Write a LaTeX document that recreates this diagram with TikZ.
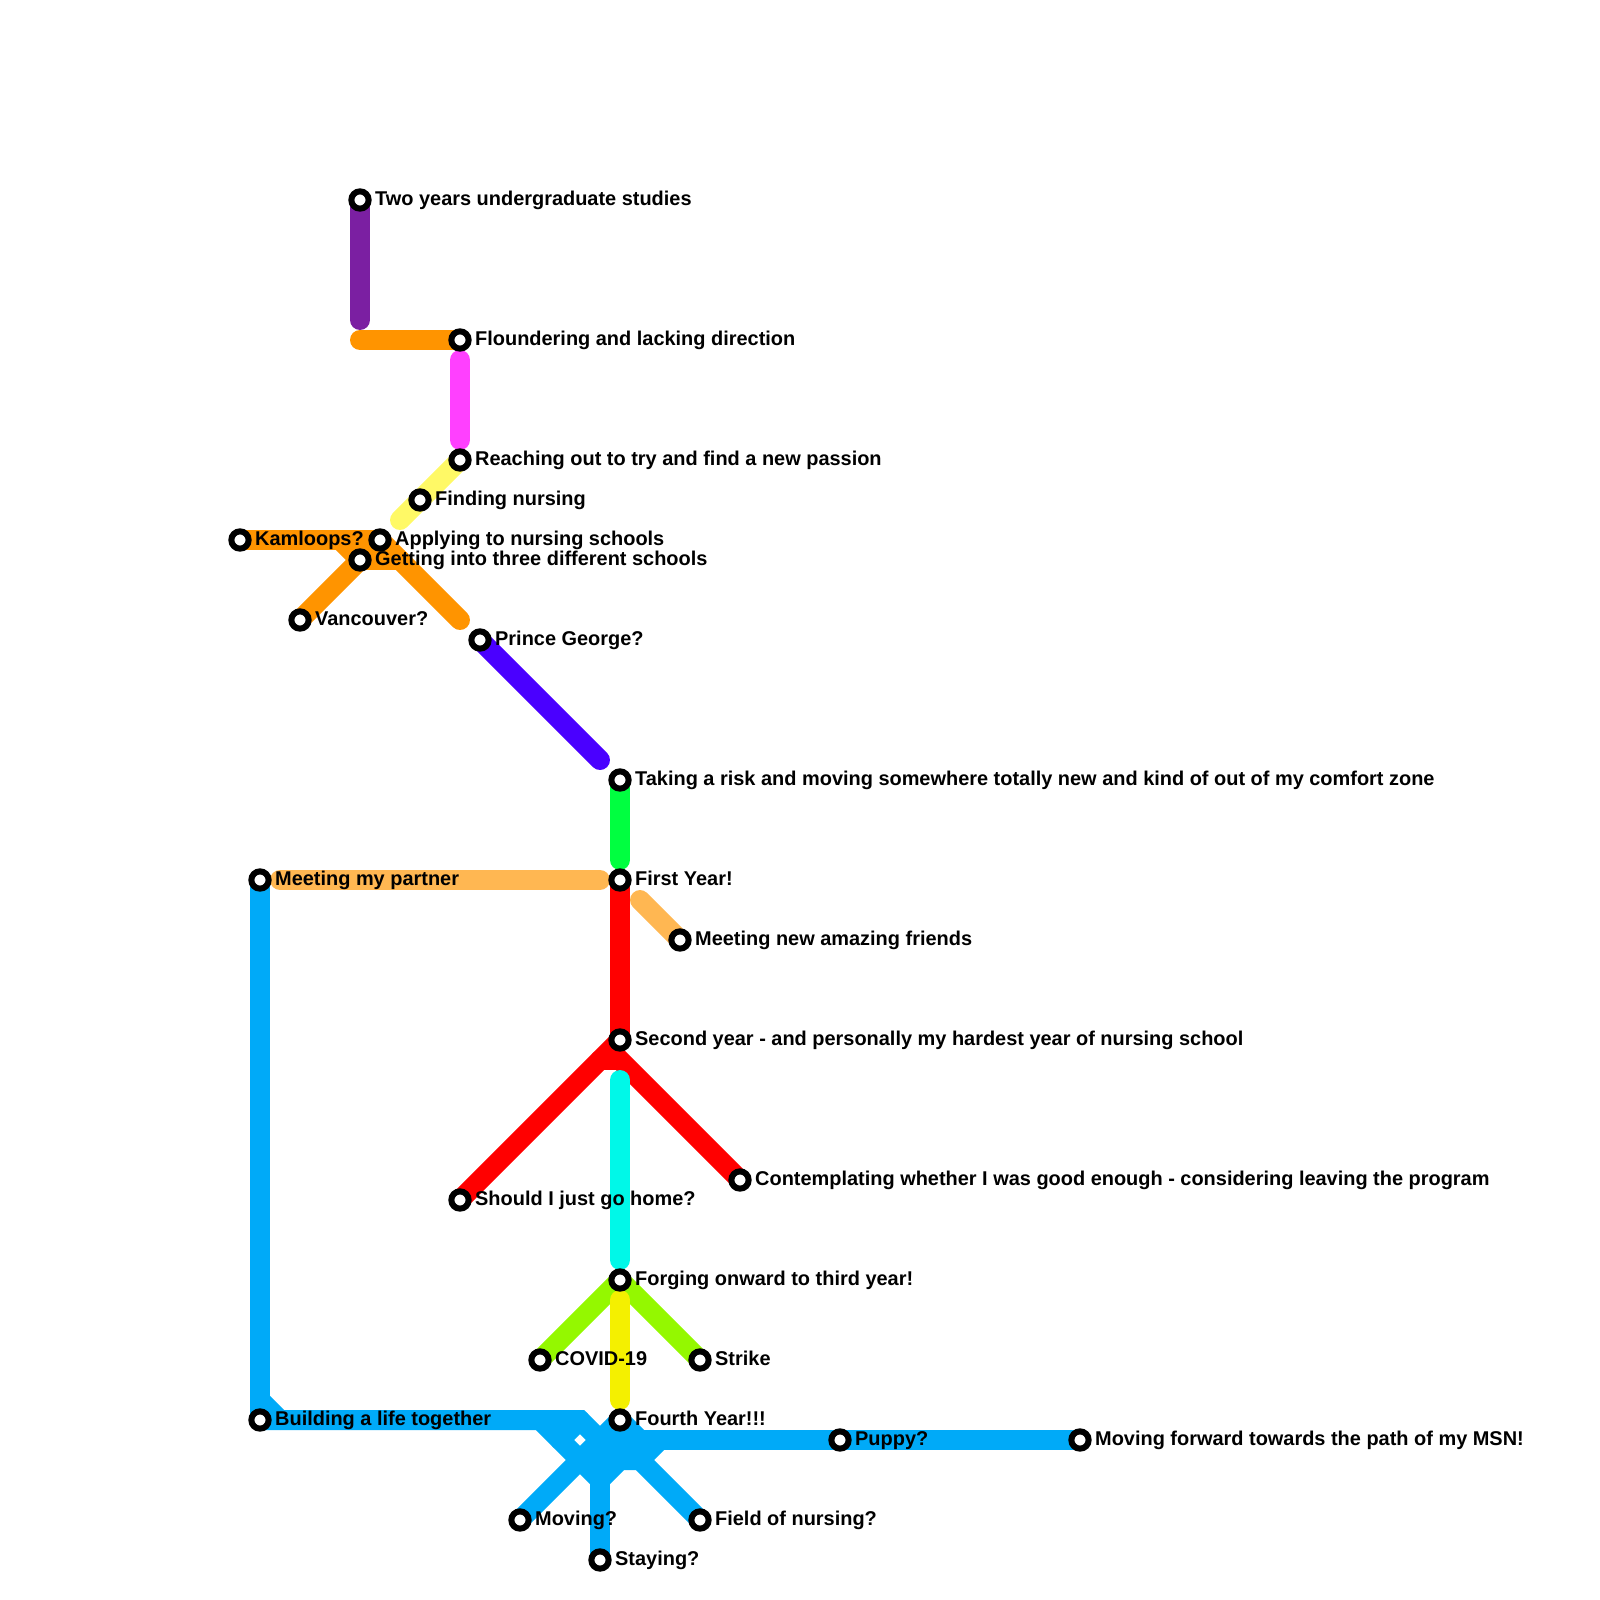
\documentclass[tikz,border=0pt]{standalone}
\usepackage{xcolor}
\usepackage{fontspec}
\setmainfont{Liberation Sans}
\usetikzlibrary{backgrounds}
\definecolor{linepurple}{HTML}{7B1FA2}
\definecolor{lineorange}{HTML}{FF9400}
\definecolor{linepink}{HTML}{FF40FF}
\definecolor{lineyellow}{HTML}{FFF966}
\definecolor{lineindigo}{HTML}{4A00FF}
\definecolor{linegreen}{HTML}{00FF40}
\definecolor{linepeach}{HTML}{FFB752}
\definecolor{lineblue}{HTML}{00AAF8}
\definecolor{linered}{HTML}{FF0000}
\definecolor{linecyan}{HTML}{00F8E8}
\definecolor{linelime}{HTML}{94F800}
\definecolor{linelemon}{HTML}{F4F000}
\tikzset{
  metro/.style={line width=14.2pt,line cap=round,line join=miter},
  stop/.style={circle,draw=black,fill=white,line width=4.3pt,minimum size=12.3pt,inner sep=0pt},
  stoptext/.style={font=\bfseries\fontsize{14.18}{16}\selectfont,inner sep=0pt,text height=12pt,text depth=4.88pt,label distance=2.3pt}
}
\begin{document}
\begin{tikzpicture}[x=0.5cm,y=-0.5cm]
\useasboundingbox (0,0) rectangle (80,80);
\node[stop,label={[stoptext]right:Two years undergraduate studies}] (two) at (18,10) {};
\node[stop,label={[stoptext]right:Floundering and lacking direction}] (flounder) at (23,17) {};
\node[stop,label={[stoptext]right:Reaching out to try and find a new passion}] (reach) at (23,23) {};
\node[stop,label={[stoptext]right:Finding nursing}] (finding) at (21,25) {};
\node[stop,label={[stoptext]right:Kamloops?}] (kamloops) at (12,27) {};
\node[stop,label={[stoptext]right:Applying to nursing schools}] (applying) at (19,27) {};
\node[stop,label={[stoptext]right:Getting into three different schools}] (getting) at (18,28) {};
\node[stop,label={[stoptext]right:Vancouver?}] (vancouver) at (15,31) {};
\node[stop,label={[stoptext]right:Prince George?}] (prince) at (24,32) {};
\node[stop,label={[stoptext]right:Taking a risk and moving somewhere totally new and kind of out of my comfort zone}] (risk) at (31,39) {};
\node[stop,label={[stoptext]right:Meeting my partner}] (partner) at (13,44) {};
\node[stop,label={[stoptext]right:First Year!}] (first) at (31,44) {};
\node[stop,label={[stoptext]right:Meeting new amazing friends}] (friends) at (34,47) {};
\node[stop,label={[stoptext]right:Second year - and personally my hardest year of nursing school}] (second) at (31,52) {};
\node[stop,label={[stoptext]right:Should I just go home?}] (home) at (23,60) {};
\node[stop,label={[stoptext]right:Contemplating whether I was good enough - considering leaving the program}] (leaving) at (37,59) {};
\node[stop,label={[stoptext]right:Forging onward to third year!}] (third) at (31,64) {};
\node[stop,label={[stoptext]right:COVID-19}] (covid) at (27,68) {};
\node[stop,label={[stoptext]right:Strike}] (strike) at (35,68) {};
\node[stop,label={[stoptext]right:Building a life together}] (building) at (13,71) {};
\node[stop,label={[stoptext]right:Fourth Year!!!}] (fourth) at (31,71) {};
\node[stop,label={[stoptext]right:Puppy?}] (puppy) at (42,72) {};
\node[stop,label={[stoptext]right:Moving forward towards the path of my MSN!}] (msn) at (54,72) {};
\node[stop,label={[stoptext]right:Moving?}] (moving) at (26,76) {};
\node[stop,label={[stoptext]right:Field of nursing?}] (field) at (35,76) {};
\node[stop,label={[stoptext]right:Staying?}] (staying) at (30,78) {};
% turning points and loose line ends
\coordinate (purpleend) at (18,16);
\coordinate (orangestart) at (18,17);
\coordinate (pinktop) at (23,18);
\coordinate (pinkbottom) at (23,22);
\coordinate (yellowend) at (20,26);
\coordinate (kamturn) at (17,27);
\coordinate (gettingend) at (20,28);
\coordinate (orangeend) at (23,31);
\coordinate (indigoend) at (30,38);
\coordinate (greenend) at (31,43);
\coordinate (peachleft) at (14,44);
\coordinate (peachright) at (30,44);
\coordinate (peachstart) at (32,45);
\coordinate (redleft) at (30,53);
\coordinate (redright) at (31,53);
\coordinate (cyantop) at (31,54);
\coordinate (cyanbottom) at (31,63);
\coordinate (lemontop) at (31,65);
\coordinate (lemonbottom) at (31,70);
\coordinate (blueturn) at (13,70);
\coordinate (bluebend) at (14,71);
\coordinate (bluecorner) at (29,71);
\coordinate (blueinner) at (27,71);
\coordinate (bluestub) at (28,72);
\coordinate (hubleft) at (30,72);
\coordinate (hubdrop) at (30,74);
\coordinate (hubmid) at (31,73);
\coordinate (hubright) at (32,73);
\coordinate (hubtop) at (32,72);
\coordinate (hubstub) at (33,72);
\begin{scope}[on background layer]
\draw[metro,linepurple] (two.center) -- (purpleend);
\draw[metro,lineorange] (orangestart) -- (flounder.center);
\draw[metro,linepink] (pinktop) -- (pinkbottom);
\draw[metro,lineyellow] (reach.center) -- (yellowend);
\draw[metro,lineorange] (kamloops.center) -- (applying.center) -- (orangeend);
\draw[metro,lineorange] (kamturn) -- (getting.center) -- (gettingend);
\draw[metro,lineorange] (vancouver.center) -- (getting.center);
\draw[metro,lineindigo] (prince.center) -- (indigoend);
\draw[metro,linegreen] (risk.center) -- (greenend);
\draw[metro,linepeach] (peachleft) -- (peachright);
\draw[metro,linepeach] (peachstart) -- (friends.center);
\draw[metro,lineblue] (partner.center) -- (building.center);
\draw[metro,lineblue] (building.center) -- (bluecorner) -- (hubmid);
\draw[metro,lineblue] (blueturn) -- (bluebend);
\draw[metro,lineblue] (bluecorner) -- (bluestub);
\draw[metro,lineblue] (blueinner) -- (hubdrop);
\draw[metro,lineblue] (moving.center) -- (fourth.center);
\draw[metro,lineblue] (fourth.center) -- (hubtop);
\draw[metro,lineblue] (fourth.center) -- (hubmid);
\draw[metro,lineblue] (hubleft) -- (msn.center);
\draw[metro,lineblue] (hubleft) -- (hubdrop);
\draw[metro,lineblue] (hubtop) -- (hubright);
\draw[metro,lineblue] (hubdrop) -- (hubmid) -- (hubright) -- (hubstub);
\draw[metro,lineblue] (hubright) -- (field.center);
\draw[metro,lineblue] (hubdrop) -- (staying.center);
\draw[metro,linered] (first.center) -- (second.center);
\draw[metro,linered] (home.center) -- (second.center);
\draw[metro,linered] (redleft) -- (redright) -- (leaving.center);
\draw[metro,linecyan] (cyantop) -- (cyanbottom);
\draw[metro,linelime] (covid.center) -- (third.center);
\draw[metro,linelime] (third.center) -- (strike.center);
\draw[metro,linelemon] (lemontop) -- (lemonbottom);
\end{scope}
\end{tikzpicture}
\end{document}
